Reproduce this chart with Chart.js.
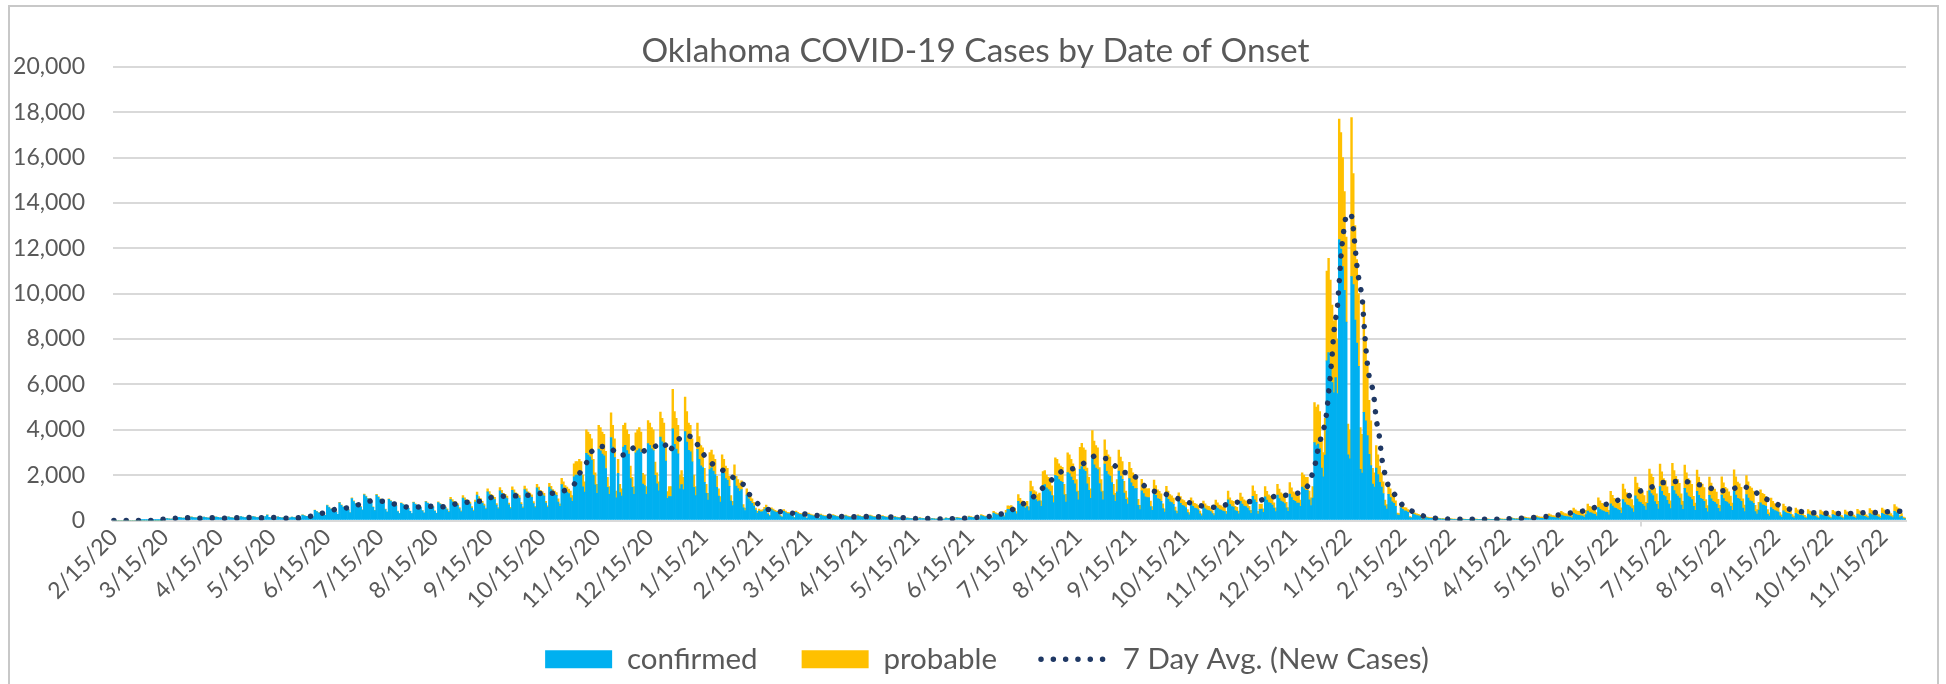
<!DOCTYPE html>
<html><head><meta charset="utf-8">
<script src="https://cdn.jsdelivr.net/npm/chart.js@4.4.1/dist/chart.umd.min.js"></script>
<style>
html,body{margin:0;padding:0;background:#fff;overflow:hidden}
#wrap{position:relative;width:1946px;height:684px}
#frame{position:absolute;left:8px;top:5px;width:1931px;height:720px;border:2px solid #c8c8c8;box-sizing:border-box}
canvas{position:absolute;left:0;top:0}
</style></head><body>
<div id="wrap"><div id="frame"></div><canvas id="c" width="1946" height="684"></canvas></div>
<script>
// daily cases by onset date, starting 2/15/20 (Sat)
const confirmed = [
0,0,0,0,0,0,0, 0,0,0,0,0,0,0,
0,0,1,2,1,1,2, 2,1,6,7,6,5,8,
41,29,84,73,64,61,55, 68,49,141,121,107,102,92,
75,53,155,134,117,113,102, 72,51,147,127,113,107,97,
78,50,153,136,114,114,101, 73,56,157,131,120,109,101,
85,61,176,151,134,127,115, 82,64,173,155,131,130,113,
81,58,170,243,136,116,107, 78,56,162,140,123,117,106,
75,53,116,146,126,121,107, 115,82,240,207,181,174,157,
217,155,450,388,341,326,295, 319,228,662,570,501,479,434,
373,267,774,667,587,561,507, 469,335,971,837,736,703,636,
592,456,1135,1048,951,922,805, 582,437,1116,1019,931,902,786,
485,369,931,854,776,757,650, 398,301,757,698,631,621,534,
407,310,786,718,650,631,572, 427,330,825,757,679,669,592,
417,320,795,728,660,640,582, 468,360,918,828,756,729,666,
513,387,990,900,819,792,734, 549,414,810,1125,945,873,765,
648,495,1260,1143,1035,990,918, 675,513,1305,1197,1080,1035,968,
693,522,1332,1215,1098,1053,986, 711,540,1368,1260,1134,1089,1017,
747,567,1440,1323,1197,1143,1080, 765,585,1476,1359,1224,1170,1107,
816,629,1581,1445,1309,1250,1182, 1001,847,1925,2002,2002,2079,2002,
1480,1258,2960,2886,2812,2664,1998, 1575,1200,3150,3075,2925,2850,2288,
1463,1155,3658,3234,2772,1001,2079, 1232,1078,3234,3311,3080,2926,1848,
1463,1155,2980,3080,3157,3003,1602, 1540,1155,3396,3311,3157,3080,1987,
1617,1309,3681,3465,3311,2618,978, 1050,1050,4046,3360,3150,2940,1400,
1584,1368,3917,3456,3096,3024,2592, 1460,1095,3139,2701,2409,2336,1679,
1200,900,2250,2325,2175,2025,1463, 1078,809,2233,2079,1848,1771,1502,
858,663,1911,1521,1404,1287,1365, 560,440,1120,960,840,760,640,
457,332,415,374,398,481,564, 272,196,476,425,383,357,272,
196,145,408,349,306,298,264, 170,123,357,310,272,259,234,
136,98,276,238,213,200,179, 116,83,241,207,183,174,156,
107,77,222,191,168,161,145, 99,71,203,175,155,147,133,
101,72,210,181,159,152,136, 98,72,204,174,153,149,132,
89,64,185,160,140,134,120, 75,54,154,133,117,111,100,
51,37,105,90,80,76,68, 49,38,106,88,81,75,68,
39,28,80,69,61,58,53, 48,34,60,102,85,80,68,
60,43,123,106,94,89,81, 81,58,167,144,127,121,107,
105,75,217,187,164,157,142, 157,112,325,280,246,235,213,
225,165,338,488,480,495,435, 407,291,842,726,639,610,551,
613,438,1270,1095,964,920,832, 871,626,1555,1584,1440,1368,1274,
1102,792,1987,1944,1800,1728,1685, 1136,817,2116,2059,1917,1775,1612,
1260,910,2261,2380,2240,2170,1617, 1330,980,2779,2450,2310,2240,1631,
1260,910,2492,2170,2030,1960,1673, 1120,840,1260,2177,1960,1820,1211,
936,720,1843,1656,1512,1404,1404, 670,482,1310,1188,1044,1008,1016,
619,443,1282,1109,972,929,846, 526,374,1087,936,824,786,708,
425,302,877,756,665,635,573, 348,248,720,621,546,522,472,
289,207,599,517,454,434,391, 304,217,629,543,477,456,412,
392,280,910,700,616,588,434, 407,291,843,727,639,610,551,
434,315,1071,910,805,280,497, 504,361,1046,902,793,757,685,
544,389,1120,972,855,816,744, 564,403,1168,1007,886,846,764,
770,630,1470,1400,1330,1330,910, 660,990,3432,3300,3366,3168,2310,
1920,2880,7040,7400,6780,6080,5630, 6300,5600,12390,11970,11200,10150,8750,
2890,2720,10750,10400,8840,7820,6800, 2255,2090,4770,4400,3740,2915,2420,
1610,1470,2310,2030,1680,1470,1190, 648,504,1152,1008,828,756,626,
248,225,563,488,428,420,360, 128,113,285,248,218,203,173,
63,45,131,113,99,95,86, 42,30,87,75,66,63,57,
32,23,65,56,50,47,43, 26,19,55,47,41,40,35,
27,18,54,48,41,39,36, 26,20,56,47,42,39,35,
28,20,58,50,44,42,36, 39,28,81,70,62,59,53,
52,37,109,94,82,79,70, 64,46,132,114,100,96,86,
87,62,180,155,136,130,118, 118,84,244,210,185,176,160,
154,110,320,276,242,231,209, 200,143,257,410,353,336,296,
275,197,570,492,433,413,373, 355,254,735,634,558,533,482,
443,316,918,791,696,665,600, 527,376,1091,941,828,790,715,
638,464,754,1317,1189,1102,829, 708,504,1494,1290,1110,1056,894,
720,522,1512,1320,1170,1080,984, 684,487,1415,1218,1073,1021,922,
621,444,1288,1108,974,934,844, 536,383,1110,957,842,804,727,
539,389,1119,963,847,812,731, 626,447,1293,1119,980,940,847,
551,394,1148,986,870,829,754, 389,278,464,783,696,667,621,
276,197,572,493,434,414,375, 203,145,421,363,319,305,276,
154,110,320,276,242,231,209, 134,96,278,240,211,201,181,
128,92,265,229,201,192,172, 126,90,262,226,198,190,171,
128,87,264,223,200,189,173, 138,99,286,247,217,207,187,
146,104,303,261,230,219,198, 154,110,320,276,242,231,209,
174,128,406,348,319,128,180, 87,70
];
const probable = [
0,0,0,0,0,0,0, 0,0,0,0,0,0,0,
0,0,0,0,0,0,0, 0,0,0,0,0,0,0,
1,1,3,2,2,2,2, 2,1,4,4,3,3,3,
2,2,5,4,4,3,3, 2,2,5,4,3,3,3,
2,2,5,4,4,4,3, 2,2,5,4,4,3,3,
3,2,5,5,4,4,4, 3,2,5,5,4,4,4,
3,2,5,7,4,4,3, 2,2,5,4,4,4,3,
2,2,4,4,4,4,3, 4,3,7,6,6,5,5,
7,5,14,12,11,10,9, 10,7,20,18,16,15,13,
12,8,24,21,18,17,16, 14,10,30,26,23,22,20,
18,14,35,32,29,28,25, 18,13,34,31,29,28,24,
15,11,29,26,24,23,20, 12,9,23,22,19,19,16,
13,10,24,22,20,19,18, 13,10,25,23,21,21,18,
13,10,25,22,20,20,18, 52,40,102,92,84,81,74,
57,43,110,100,91,88,81, 61,46,90,125,105,97,85,
72,55,140,127,115,110,102, 75,57,145,133,120,115,107,
77,58,148,135,122,117,109, 79,60,152,140,126,121,113,
83,63,160,147,133,127,120, 85,65,164,151,136,130,123,
144,111,279,255,231,220,208, 299,253,575,598,598,621,598,
520,442,1040,1014,988,936,702, 525,400,1050,1025,975,950,762,
437,345,1092,966,828,299,621, 368,322,966,989,920,874,552,
437,345,890,920,943,897,478, 460,345,1014,989,943,920,593,
483,391,1099,1035,989,782,292, 450,450,1734,1440,1350,1260,600,
616,532,1523,1344,1204,1176,1008, 540,405,1161,999,891,864,621,
400,300,750,775,725,675,487, 322,241,667,621,552,529,448,
242,187,539,429,396,363,385, 140,110,280,240,210,190,160,
93,68,85,76,82,99,116, 48,34,84,75,67,63,48,
34,25,72,61,54,52,46, 30,22,63,55,48,46,41,
24,17,49,42,37,35,31, 21,15,42,37,32,31,27,
19,13,39,34,30,28,26, 17,12,36,31,27,26,23,
18,13,37,32,28,27,24, 17,13,36,31,27,26,23,
16,11,33,28,25,24,21, 13,9,27,23,21,20,18,
9,6,18,16,14,13,12, 9,7,19,16,14,13,12,
7,5,14,12,11,10,9, 8,6,10,18,15,14,12,
10,7,22,19,16,16,14, 14,10,29,25,22,21,19,
21,15,44,38,34,32,29, 39,28,81,70,62,59,53,
75,55,112,162,160,165,145, 143,102,296,255,225,214,194,
227,162,470,405,356,340,308, 339,244,605,616,560,532,496,
428,308,773,756,700,672,655, 464,333,864,841,783,725,658,
540,390,969,1020,960,930,693, 570,420,1191,1050,990,960,699,
540,390,1068,930,870,840,717, 480,360,540,933,840,780,519,
364,280,717,644,588,546,546, 260,188,510,462,406,392,395,
241,172,498,431,378,361,329, 204,146,423,364,320,306,276,
165,118,341,294,259,247,223, 135,97,280,242,213,203,183,
124,88,257,221,195,186,168, 130,93,270,232,205,195,177,
168,120,390,300,264,252,186, 174,124,361,311,274,262,236,
186,135,459,390,345,120,213, 216,154,448,386,340,325,293,
233,166,480,416,366,350,319, 241,172,500,431,379,362,327,
330,270,630,600,570,570,390, 340,510,1768,1700,1734,1632,1190,
1080,1620,3960,4160,3820,3420,3170, 2700,2400,5310,5130,4800,4350,3750,
1360,1280,7020,4900,4160,3680,3200, 1845,1710,4880,3600,3060,2385,1980,
690,630,990,870,720,630,510, 252,196,448,392,322,294,244,
82,75,187,162,142,140,120, 42,37,95,82,72,67,57,
21,15,43,37,33,31,28, 14,10,29,25,22,21,19,
10,7,22,19,16,16,14, 9,6,18,16,14,13,11,
9,6,18,16,13,13,12, 8,6,18,15,14,13,11,
11,8,22,19,17,16,14, 17,12,35,30,26,25,23,
25,18,51,44,39,37,33, 34,24,71,61,54,51,47,
53,38,110,95,84,80,72, 78,56,162,140,123,118,106,
112,80,231,199,176,168,152, 150,107,193,310,267,254,224,
208,148,430,371,326,312,282, 268,191,555,479,421,402,363,
334,239,692,597,525,501,453, 397,284,823,709,624,596,539,
462,336,546,953,861,798,601, 472,336,996,860,740,704,596,
480,348,1008,880,780,720,656, 496,353,1025,882,777,739,668,
449,321,932,802,706,676,611, 388,277,804,693,610,582,527,
391,281,811,697,613,588,529, 454,323,937,811,710,680,613,
399,286,832,714,630,601,546, 281,202,336,567,504,483,449,
200,143,414,357,314,300,271, 147,105,304,262,231,220,199,
112,80,231,199,176,168,152, 97,69,201,173,152,146,131,
93,66,192,165,146,139,125, 92,66,189,163,144,137,124,
92,63,191,162,145,136,125, 100,71,207,178,157,150,136,
106,76,219,189,166,159,144, 112,80,231,199,176,168,152,
126,92,294,252,231,92,130, 63,50
];
// 7-day average readings (day index from 2/15/20, value)
const avgDay = [0,7,14,21,28,35,42,49,56,63,70,77,84,91,98,105,112,119,125,132,139,146,153,160,167,174,181,188,194,201,208,214,221,228,235,242,249,256,261,264,268,271,275,282,286,290,295,300,306,312,315,319,323,329,332,336,341,346,352,358,361,366,372,379,386,393,400,407,414,421,428,435,442,449,456,463,470,477,484,491,498,505,511,517,523,528,533,538,545,551,556,563,568,572,577,582,587,594,600,607,613,620,627,634,640,647,654,660,667,674,678,680,682,683,685,687,688,689,690,691,692,694,695,696,697,698,699,702,703,704,705,706,708,709,710,711,712,714,715,716,718,719,721,723,727,731,737,744,750,757,764,771,778,785,792,799,806,813,820,827,834,841,847,853,860,866,871,876,883,890,896,903,910,917,923,930,934,940,946,953,960,967,974,981,988,995,1002,1009,1016];
const avgValue = [0,0,0,0,60,100,117,100,117,100,117,131,117,131,100,117,190,336,482,555,700,876,847,710,574,603,632,603,735,810,853,1015,1073,1088,1118,1190,1206,1323,1573,2060,2530,3044,3280,3206,2853,2897,3220,3044,3235,3441,3015,3485,3765,3676,3190,2750,2390,2190,1850,1540,1070,680,455,380,310,280,205,190,175,160,175,160,147,118,75,88,60,88,103,147,190,315,533,785,1126,1526,1867,2193,2296,2563,2844,2726,2400,2118,2118,1718,1333,1230,1067,860,711,593,585,785,830,835,960,1110,1112,1255,1595,2110,2660,3190,3740,4250,4800,5630,6440,7260,8350,9430,10500,11630,12450,13000,13530,13440,12910,12070,11260,10710,9900,8800,7700,6880,6340,5800,5260,4440,3620,2800,2020,1480,1095,660,380,160,95,60,50,50,50,50,74,103,132,176,250,338,426,600,726,890,1111,1304,1407,1659,1689,1763,1630,1511,1289,1348,1541,1363,1037,859,607,444,356,326,311,311,311,370,341,415,400];
const yTicks = [0,2000,4000,6000,8000,10000,12000,14000,16000,18000,20000];

const START = Date.UTC(2020,1,15);
const labels = confirmed.map((_, i) => {
  const d = new Date(START + i * 86400000);
  return (d.getUTCMonth() + 1) + '/' + d.getUTCDate() + '/' + String(d.getUTCFullYear()).slice(2);
});
const avg = new Array(confirmed.length).fill(null);
avgDay.forEach((d, i) => { avg[d] = avgValue[i]; });
const isMid = i => labels[i] && labels[i].split('/')[1] === '15';

const FONT = 'Lato, "Open Sans", sans-serif';
const GRAY = '#595959';
const GRID = '#d9d9d9';
const NAVY = '#1F3864';

const nudge = {
  id: 'nudge',
  afterLayout(chart) {
    chart.legend.top -= 10;
    chart.legend.left += 58;
    chart.titleBlock.left += 35;
  }
};

new Chart(document.getElementById('c'), {
  type: 'bar',
  plugins: [nudge],
  data: {
    labels,
    datasets: [
      {label: 'confirmed', data: confirmed, backgroundColor: '#00B0F0', borderWidth: 0, stack: 'cases', order: 1, pointStyle: 'rect'},
      {label: 'probable', data: probable, backgroundColor: '#FFC000', borderWidth: 0, stack: 'cases', order: 1, pointStyle: 'rect'},
      {type: 'line', label: '7 Day Avg. (New Cases)', data: avg, stack: 'avg', order: 0,
       borderColor: NAVY, backgroundColor: NAVY, borderWidth: 5.5, borderDash: [0.01, 12.3],
       borderCapStyle: 'round', pointRadius: 0, pointHoverRadius: 0, pointStyle: 'line', spanGaps: true, fill: false, tension: 0}
    ]
  },
  options: {
    responsive: false, animation: false, devicePixelRatio: 1,
    layout: {padding: {left: 10, right: 40, top: 0, bottom: -10}},
    datasets: {bar: {barPercentage: 1, categoryPercentage: 1}},
    plugins: {
      title: {display: true, text: 'Oklahoma COVID-19 Cases by Date of Onset', color: GRAY,
        font: {family: FONT, size: 33.4, weight: 'normal', lineHeight: 1}, padding: {top: 35, bottom: -1.5}},
      legend: {position: 'bottom', labels: {usePointStyle: true, pointStyleWidth: 67, boxHeight: 18, padding: 44,
        color: GRAY, font: {family: FONT, size: 29.5},
        generateLabels(chart) {
          const items = Chart.defaults.plugins.legend.labels.generateLabels(chart);
          items.forEach(it => {
            if (it.datasetIndex === 2) {
              it.pointStyle = 'line'; it.lineDash = [0.01, 12.3]; it.lineCap = 'round';
              it.lineWidth = 5.5; it.strokeStyle = NAVY; it.fillStyle = NAVY;
            } else {
              it.pointStyle = 'rect'; it.lineWidth = 0;
            }
          });
          return items.sort((a, b) => a.datasetIndex - b.datasetIndex);
        }}},
      tooltip: {enabled: false}
    },
    scales: {
      x: {
        stacked: true, offset: true,
        grid: {offset: true, drawOnChartArea: false, drawTicks: true, tickLength: 6,
          color: c => isMid(c.index) ? GRID : 'rgba(0,0,0,0)', lineWidth: c => isMid(c.index) ? 2 : 0},
        border: {display: true, color: GRID, width: 2},
        ticks: {autoSkip: false, maxRotation: 45, minRotation: 45, padding: -3, color: GRAY,
          font: {family: FONT, size: 23},
          callback(v, i) { return isMid(i) ? labels[i] : null; }},
        afterFit(s) { s.height = 90; }
      },
      y: {
        stacked: true, min: 0, max: 20000,
        afterBuildTicks(s) { s.ticks = yTicks.map(v => ({value: v})); },
        ticks: {padding: 28, color: GRAY, font: {family: FONT, size: 23}, callback: v => v.toLocaleString('en-US')},
        grid: {color: GRID, lineWidth: 2, drawTicks: false},
        border: {display: false},
        afterFit(s) { s.width = 103; }
      }
    }
  }
});
</script></body></html>
